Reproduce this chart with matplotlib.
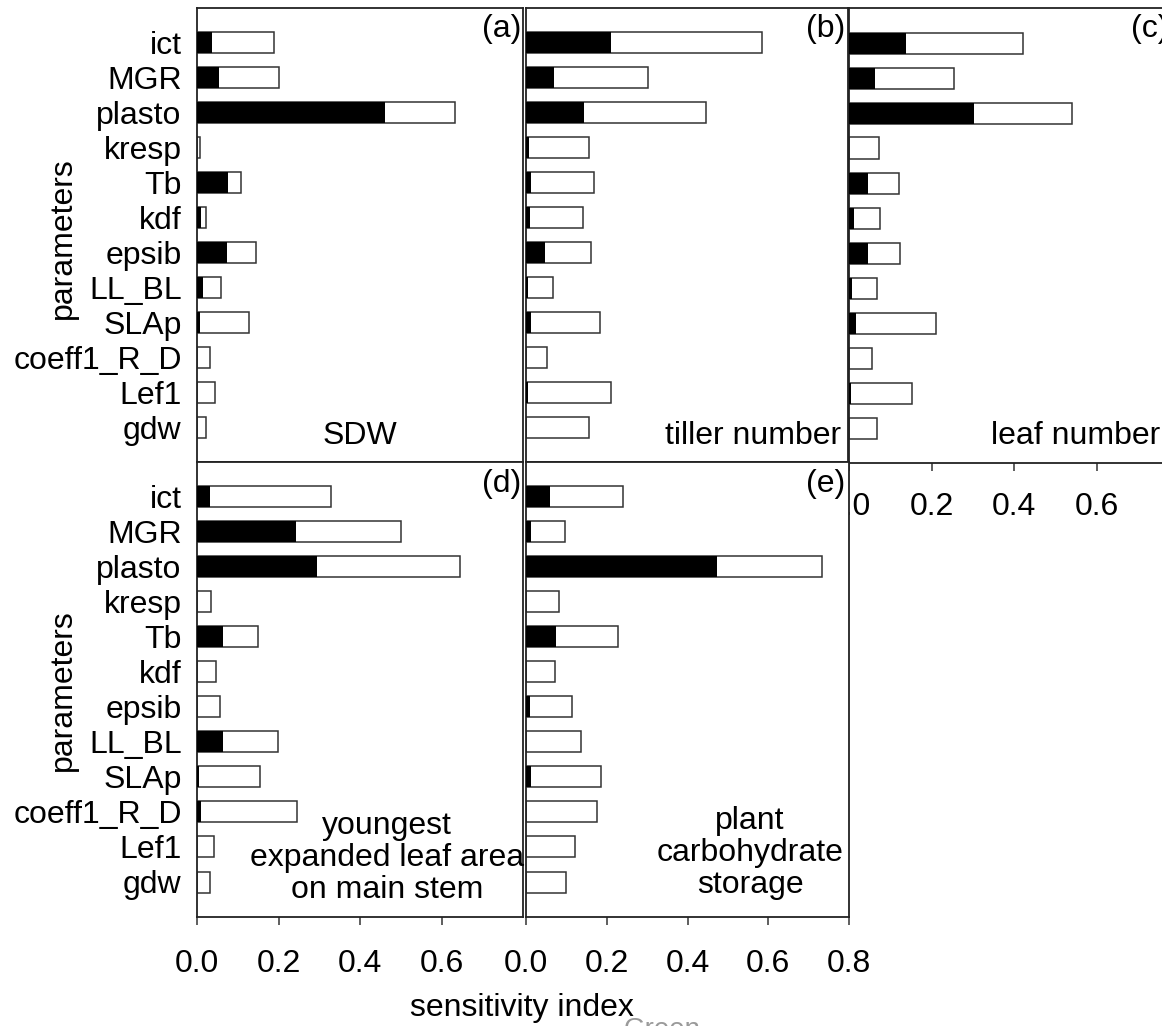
import matplotlib
matplotlib.use("Agg")
import matplotlib.pyplot as plt
import numpy as np

plt.rcParams['font.family'] = ['Liberation Sans', 'DejaVu Sans']

params = ['ict', 'MGR', 'plasto', 'kresp', 'Tb', 'kdf', 'epsib', 'LL_BL',
          'SLAp', 'coeff1_R_D', 'Lef1', 'gdw']

sdw_first = [0.038, 0.055, 0.461, 0.0, 0.077, 0.011, 0.073, 0.014, 0.008, 0.0, 0.0, 0.0]
sdw_total = [0.189, 0.201, 0.634, 0.008, 0.108, 0.022, 0.144, 0.059, 0.127, 0.033, 0.043, 0.021]

tiller_first = [0.212, 0.070, 0.145, 0.007, 0.013, 0.010, 0.048, 0.005, 0.013, 0.0, 0.005, 0.0]
tiller_total = [0.587, 0.304, 0.447, 0.157, 0.168, 0.142, 0.162, 0.066, 0.183, 0.051, 0.210, 0.156]

leaf_first = [0.138, 0.062, 0.304, 0.0, 0.047, 0.011, 0.045, 0.007, 0.018, 0.0, 0.005, 0.0]
leaf_total = [0.421, 0.254, 0.541, 0.072, 0.122, 0.075, 0.123, 0.068, 0.212, 0.055, 0.153, 0.068]

yel_first = [0.033, 0.244, 0.295, 0.0, 0.063, 0.0, 0.0, 0.065, 0.006, 0.009, 0.0, 0.0]
yel_total = [0.328, 0.500, 0.646, 0.034, 0.150, 0.046, 0.057, 0.198, 0.155, 0.246, 0.042, 0.032]

pcs_first = [0.060, 0.013, 0.474, 0.0, 0.075, 0.0, 0.011, 0.0, 0.013, 0.0, 0.0, 0.0]
pcs_total = [0.241, 0.097, 0.734, 0.081, 0.229, 0.072, 0.115, 0.135, 0.186, 0.177, 0.122, 0.099]

x_ticks_d = [0.0, 0.2, 0.4, 0.6]
x_ticks_e = [0.0, 0.2, 0.4, 0.6, 0.8]
x_ticks_c = [0.0, 0.2, 0.4, 0.6]

W, H = 1162, 1026
fig = plt.figure(figsize=(W / 100, H / 100), dpi=100)

FS = 23
EDGE = '#333333'


def rect(l, r, t, b):
    return [l / W, 1 - b / H, (r - l) / W, (b - t) / H]


def panel(r, first, total, ylabels=False, xticks=None, xpad=18):
    ax = fig.add_axes(rect(*r))
    ax.set_facecolor('white')
    y = np.arange(len(params))[::-1]
    ax.barh(y, total, height=0.6, color='white', edgecolor=EDGE, linewidth=1.1, zorder=2)
    ax.barh(y, first, height=0.6, color='black', edgecolor='none', linewidth=0, zorder=3)
    ax.set_xlim(0, 0.8)
    ax.set_ylim(-1, 12)
    for s in ax.spines.values():
        s.set_color('#222222')
        s.set_linewidth(1.3)
    if ylabels:
        ax.set_yticks(y)
        ax.set_yticklabels(params, fontsize=FS)
        ax.tick_params(axis='y', length=0, pad=11)
    else:
        ax.set_yticks([])
    if xticks is not None:
        ax.set_xticks(xticks)
        ax.set_xticklabels(['%.1f' % v for v in xticks], fontsize=FS)
        ax.tick_params(axis='x', direction='out', length=6, width=1.1,
                       color='#333333', pad=xpad)
    else:
        ax.set_xticks([])
    return ax


def px_to_ax(ax_r, x, y):
    l, r, t, b = ax_r
    return (x - l) / (r - l), (b - y) / (b - t)


ra = (197, 523, 8, 462)
rb = (526, 848, 8, 462)
rc = (849, 1179, 8, 463)
rd = (197, 523, 462, 917)
re = (526, 849, 462, 917)

ax_a = panel(ra, sdw_first, sdw_total, ylabels=True)
ax_b = panel(rb, tiller_first, tiller_total)
ax_c = panel(rc, leaf_first, leaf_total, xticks=x_ticks_c, xpad=15)
ax_d = panel(rd, yel_first, yel_total, ylabels=True, xticks=x_ticks_d, xpad=17)
ax_e = panel(re, pcs_first, pcs_total, xticks=x_ticks_e, xpad=17)


def put(ax, r, x, y, s, ha='center', **kw):
    fx, fy = px_to_ax(r, x, y)
    ax.text(fx, fy, s, transform=ax.transAxes, ha=ha, va='center',
            fontsize=FS, zorder=5, clip_on=False, **kw)


put(ax_a, ra, 521, 29, '(a)', ha='right')
put(ax_a, ra, 360, 436, 'SDW')
put(ax_b, rb, 845, 29, '(b)', ha='right')
put(ax_b, rb, 841, 436, 'tiller number', ha='right')
put(ax_c, rc, 1131, 29, '(c)', ha='left')
put(ax_c, rc, 991, 436, 'leaf number', ha='left')
put(ax_d, rd, 521, 484, '(d)', ha='right')
put(ax_d, rd, 387, 858, 'youngest\nexpanded leaf area\non main stem',
    multialignment='center', linespacing=1.08)
put(ax_e, re, 845, 484, '(e)', ha='right')
put(ax_e, re, 750, 853, 'plant\ncarbohydrate\nstorage',
    multialignment='center', linespacing=1.08)

fig.text(63 / W, 1 - 238 / H, 'parameters', rotation=90, ha='center', va='center', fontsize=FS)
fig.text(63 / W, 1 - 690 / H, 'parameters', rotation=90, ha='center', va='center', fontsize=FS)
fig.text(522 / W, 1 - 1008 / H, 'sensitivity index', ha='center', va='center', fontsize=FS)
fig.text(624 / W, 1 - 1017 / H, 'Green', ha='left', va='top', fontsize=20, color='#9a9a9a')

fig.savefig('out.png', dpi=100, facecolor='white')
